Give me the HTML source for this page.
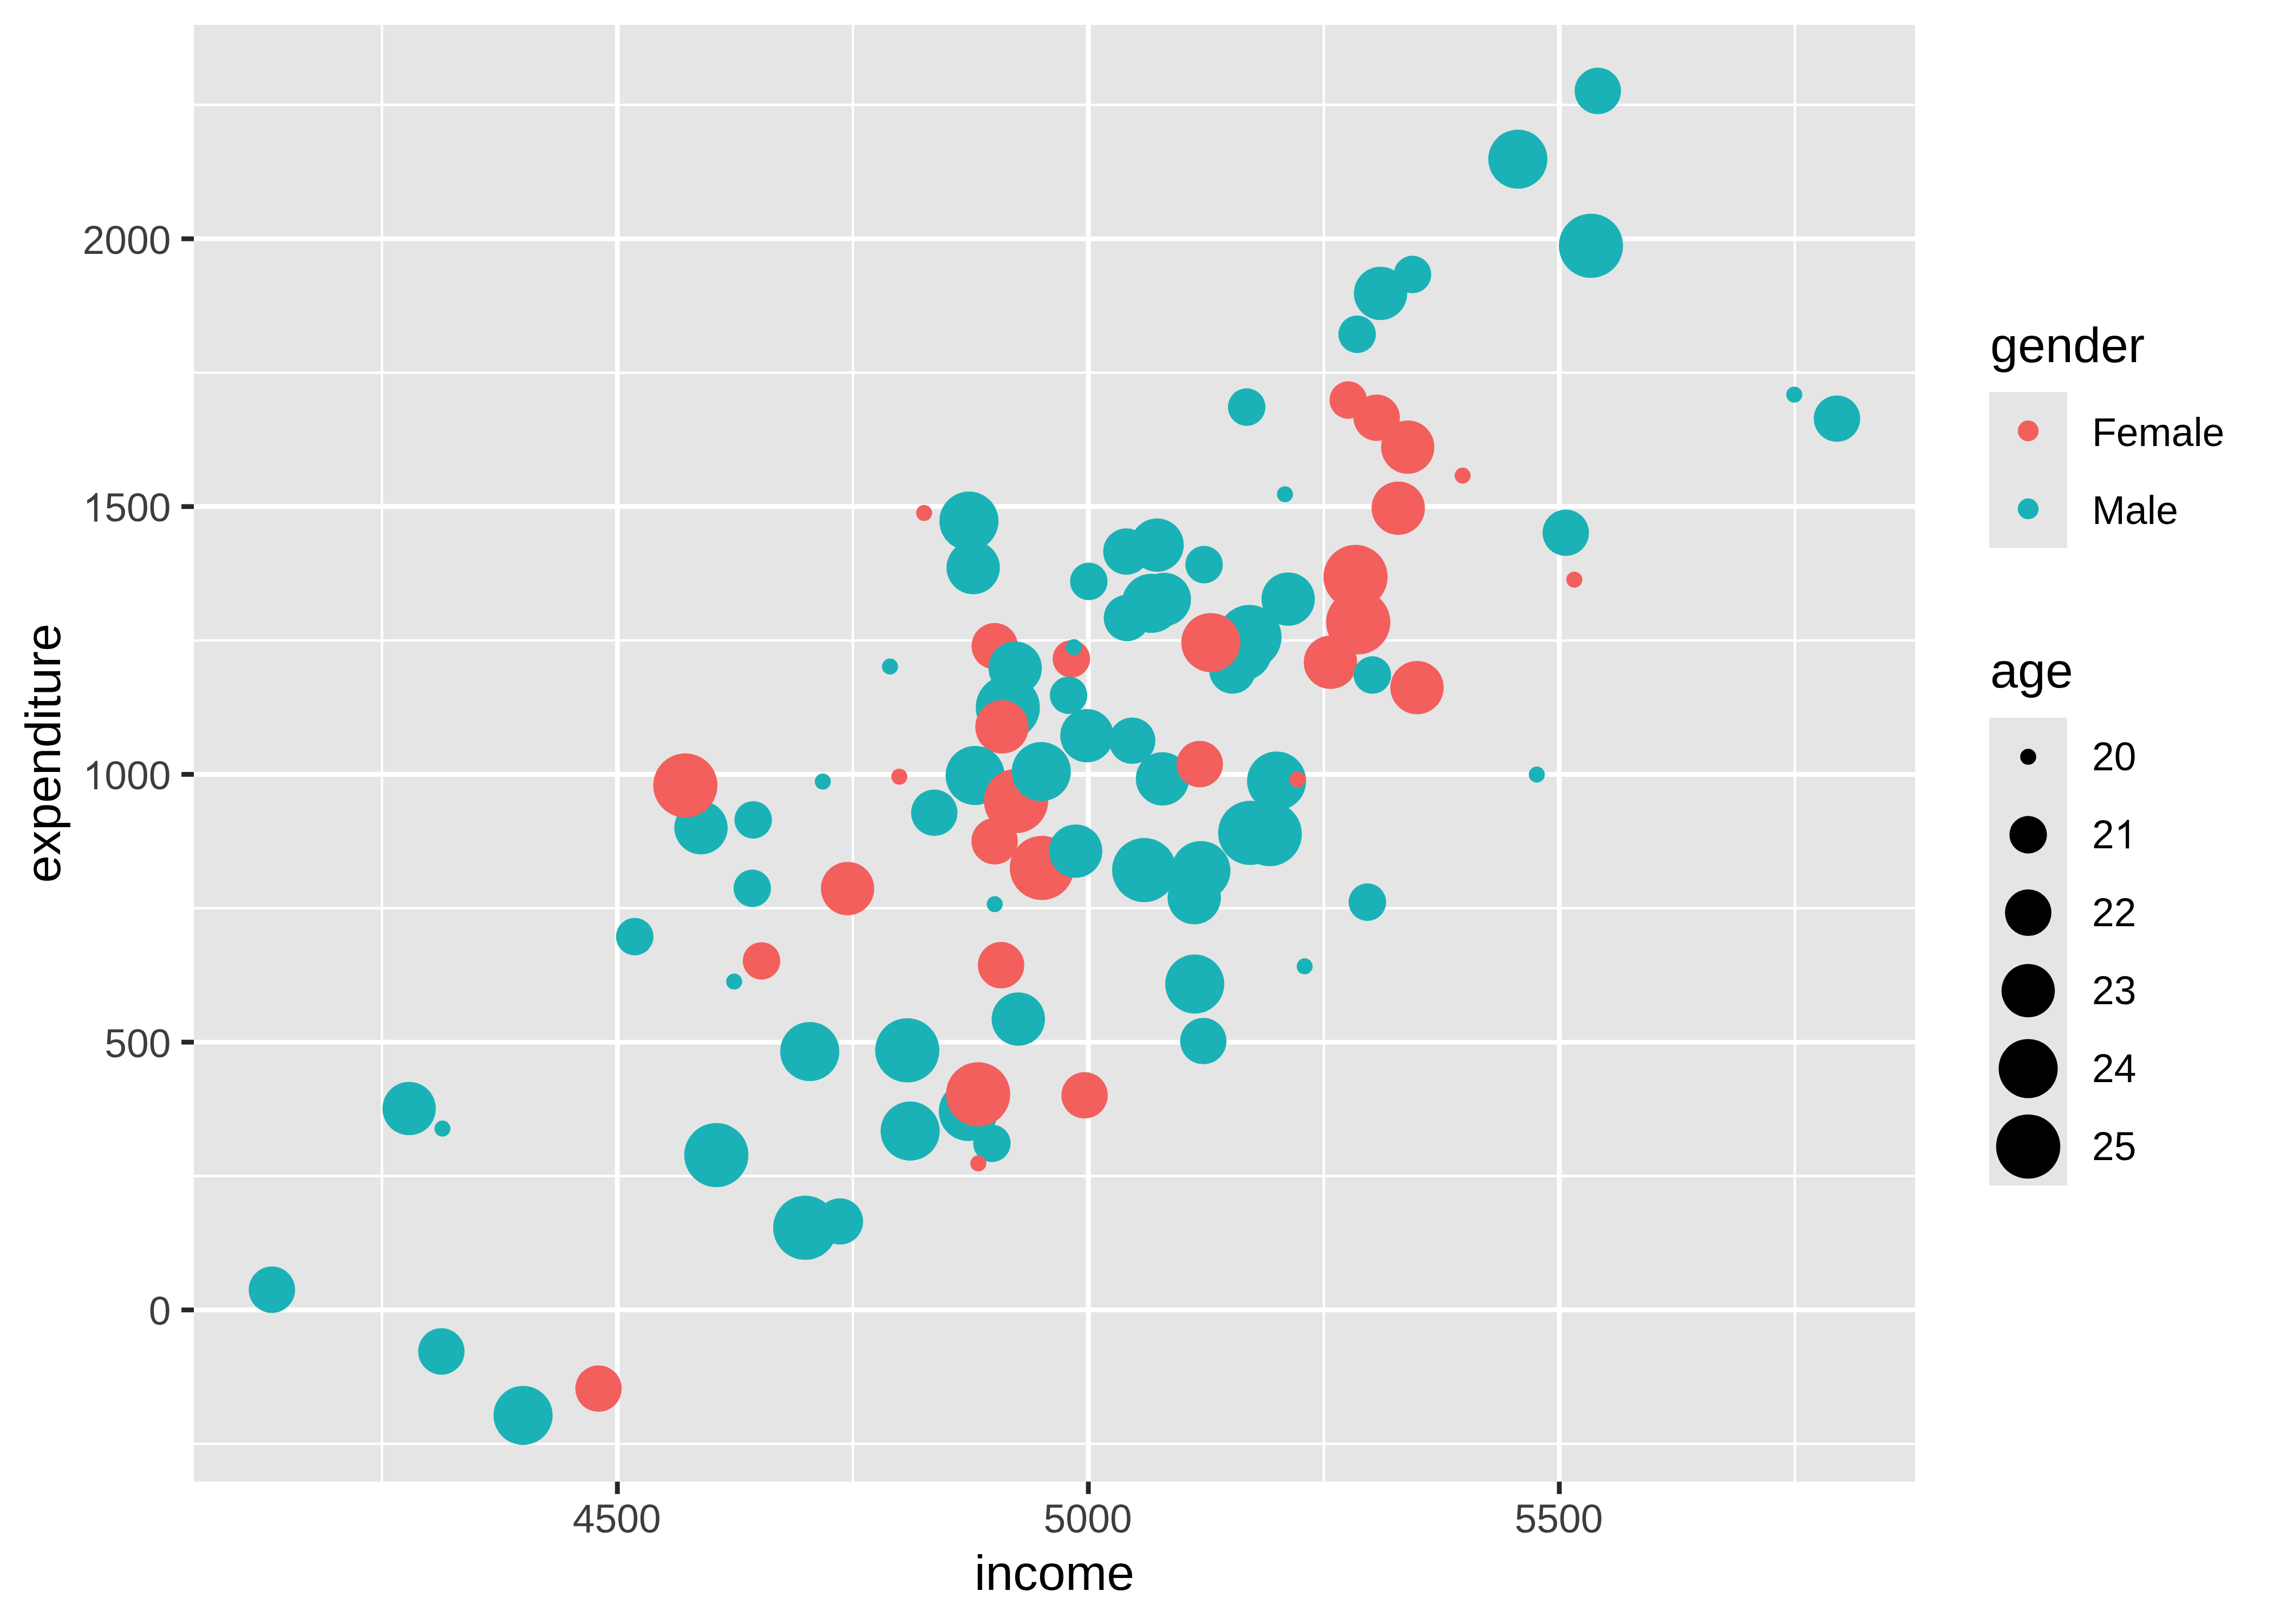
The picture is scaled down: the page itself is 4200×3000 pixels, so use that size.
<!DOCTYPE html>
<html><head><meta charset="utf-8"><style>html,body{margin:0;padding:0;width:4200px;height:3000px;overflow:hidden;background:#fff;font-family:"Liberation Sans", sans-serif;}</style></head>
<body>
<svg width="4200" height="3000" viewBox="0 0 4200 3000" style="position:absolute;left:0;top:0" font-family="'Liberation Sans', sans-serif">
<defs><clipPath id="pc"><rect x="358" y="46" width="3179" height="2691"/></clipPath></defs>
<rect width="4200" height="3000" fill="#fff"/>
<rect x="358" y="46" width="3179" height="2691" fill="#E5E5E5"/>
<line x1="705.38" y1="46" x2="705.38" y2="2737" stroke="#fff" stroke-width="4.44"/>
<line x1="1575.22" y1="46" x2="1575.22" y2="2737" stroke="#fff" stroke-width="4.44"/>
<line x1="2445.07" y1="46" x2="2445.07" y2="2737" stroke="#fff" stroke-width="4.44"/>
<line x1="3314.93" y1="46" x2="3314.93" y2="2737" stroke="#fff" stroke-width="4.44"/>
<line x1="358" y1="2667.14" x2="3537" y2="2667.14" stroke="#fff" stroke-width="4.44"/>
<line x1="358" y1="2172.46" x2="3537" y2="2172.46" stroke="#fff" stroke-width="4.44"/>
<line x1="358" y1="1677.79" x2="3537" y2="1677.79" stroke="#fff" stroke-width="4.44"/>
<line x1="358" y1="1183.11" x2="3537" y2="1183.11" stroke="#fff" stroke-width="4.44"/>
<line x1="358" y1="688.44" x2="3537" y2="688.44" stroke="#fff" stroke-width="4.44"/>
<line x1="358" y1="193.76" x2="3537" y2="193.76" stroke="#fff" stroke-width="4.44"/>
<line x1="1140.30" y1="46" x2="1140.30" y2="2737" stroke="#fff" stroke-width="8.89"/>
<line x1="2010.15" y1="46" x2="2010.15" y2="2737" stroke="#fff" stroke-width="8.89"/>
<line x1="2880.00" y1="46" x2="2880.00" y2="2737" stroke="#fff" stroke-width="8.89"/>
<line x1="358" y1="2419.80" x2="3537" y2="2419.80" stroke="#fff" stroke-width="8.89"/>
<line x1="358" y1="1925.13" x2="3537" y2="1925.13" stroke="#fff" stroke-width="8.89"/>
<line x1="358" y1="1430.45" x2="3537" y2="1430.45" stroke="#fff" stroke-width="8.89"/>
<line x1="358" y1="935.78" x2="3537" y2="935.78" stroke="#fff" stroke-width="8.89"/>
<line x1="358" y1="441.10" x2="3537" y2="441.10" stroke="#fff" stroke-width="8.89"/>
<g clip-path="url(#pc)"><circle cx="2951.1" cy="168.0" r="42.90" fill="#1AB2B6"/><circle cx="2803.4" cy="294.0" r="54.55" fill="#1AB2B6"/><circle cx="2938.4" cy="454.0" r="59.25" fill="#1AB2B6"/><circle cx="2608.8" cy="507.0" r="34.65" fill="#1AB2B6"/><circle cx="2549.8" cy="542.0" r="49.25" fill="#1AB2B6"/><circle cx="2506.6" cy="617.5" r="34.65" fill="#1AB2B6"/><circle cx="3313.9" cy="729.0" r="14.80" fill="#1AB2B6"/><circle cx="3392.8" cy="773.3" r="42.90" fill="#1AB2B6"/><circle cx="2490.2" cy="739.0" r="34.65" fill="#F25F5C"/><circle cx="2542.6" cy="771.6" r="42.90" fill="#F25F5C"/><circle cx="2600.0" cy="826.0" r="49.25" fill="#F25F5C"/><circle cx="2701.4" cy="878.6" r="14.80" fill="#F25F5C"/><circle cx="2373.3" cy="913.0" r="14.80" fill="#1AB2B6"/><circle cx="2582.5" cy="938.7" r="49.25" fill="#F25F5C"/><circle cx="2891.9" cy="984.2" r="42.90" fill="#1AB2B6"/><circle cx="2907.7" cy="1070.7" r="14.80" fill="#F25F5C"/><circle cx="2503.6" cy="1065.7" r="59.25" fill="#F25F5C"/><circle cx="2508.6" cy="1149.4" r="59.25" fill="#F25F5C"/><circle cx="2457.3" cy="1223.4" r="49.25" fill="#F25F5C"/><circle cx="2534.7" cy="1246.9" r="34.65" fill="#1AB2B6"/><circle cx="2617.2" cy="1270.2" r="49.25" fill="#F25F5C"/><circle cx="2838.4" cy="1430.9" r="14.80" fill="#1AB2B6"/><circle cx="2302.6" cy="752.0" r="34.65" fill="#1AB2B6"/><circle cx="1706.8" cy="947.6" r="14.80" fill="#F25F5C"/><circle cx="1789.6" cy="962.6" r="54.55" fill="#1AB2B6"/><circle cx="1797.4" cy="1048.5" r="49.25" fill="#1AB2B6"/><circle cx="2011.0" cy="1074.0" r="34.65" fill="#1AB2B6"/><circle cx="2080.3" cy="1018.8" r="42.90" fill="#1AB2B6"/><circle cx="2137.1" cy="1006.9" r="49.25" fill="#1AB2B6"/><circle cx="2223.9" cy="1043.0" r="34.65" fill="#1AB2B6"/><circle cx="2081.4" cy="1141.6" r="42.90" fill="#1AB2B6"/><circle cx="2126.6" cy="1114.5" r="54.55" fill="#1AB2B6"/><circle cx="2150.5" cy="1107.2" r="49.25" fill="#1AB2B6"/><circle cx="2379.2" cy="1106.7" r="49.25" fill="#1AB2B6"/><circle cx="2307.7" cy="1176.8" r="59.25" fill="#1AB2B6"/><circle cx="2295.0" cy="1202.9" r="54.55" fill="#1AB2B6"/><circle cx="2276.2" cy="1238.6" r="42.90" fill="#1AB2B6"/><circle cx="2236.4" cy="1187.0" r="54.55" fill="#F25F5C"/><circle cx="1837.2" cy="1193.7" r="42.90" fill="#F25F5C"/><circle cx="1861.4" cy="1306.8" r="59.25" fill="#1AB2B6"/><circle cx="1875.0" cy="1234.2" r="49.25" fill="#1AB2B6"/><circle cx="1850.6" cy="1342.8" r="49.25" fill="#F25F5C"/><circle cx="1978.8" cy="1217.1" r="34.65" fill="#F25F5C"/><circle cx="1983.5" cy="1195.5" r="14.80" fill="#1AB2B6"/><circle cx="1973.6" cy="1284.3" r="34.65" fill="#1AB2B6"/><circle cx="1643.8" cy="1231.4" r="14.80" fill="#1AB2B6"/><circle cx="2007.5" cy="1358.9" r="49.25" fill="#1AB2B6"/><circle cx="2091.1" cy="1368.3" r="42.90" fill="#1AB2B6"/><circle cx="2147.1" cy="1438.7" r="49.25" fill="#1AB2B6"/><circle cx="2215.9" cy="1411.5" r="42.90" fill="#F25F5C"/><circle cx="1519.7" cy="1443.7" r="14.80" fill="#1AB2B6"/><circle cx="1661.0" cy="1434.8" r="14.80" fill="#F25F5C"/><circle cx="1801.0" cy="1432.6" r="54.55" fill="#1AB2B6"/><circle cx="1876.6" cy="1479.7" r="59.25" fill="#F25F5C"/><circle cx="1923.2" cy="1425.4" r="54.55" fill="#1AB2B6"/><circle cx="1725.6" cy="1501.3" r="42.90" fill="#1AB2B6"/><circle cx="1391.1" cy="1514.6" r="34.65" fill="#1AB2B6"/><circle cx="1294.7" cy="1529.0" r="49.25" fill="#1AB2B6"/><circle cx="1265.8" cy="1450.9" r="59.25" fill="#F25F5C"/><circle cx="2357.8" cy="1442.8" r="54.55" fill="#1AB2B6"/><circle cx="2396.8" cy="1439.8" r="14.80" fill="#F25F5C"/><circle cx="1837.0" cy="1554.0" r="42.90" fill="#F25F5C"/><circle cx="1924.3" cy="1603.3" r="59.25" fill="#F25F5C"/><circle cx="1986.7" cy="1572.2" r="49.25" fill="#1AB2B6"/><circle cx="1837.3" cy="1670.3" r="14.80" fill="#1AB2B6"/><circle cx="2113.3" cy="1607.2" r="59.25" fill="#1AB2B6"/><circle cx="2218.0" cy="1608.2" r="54.55" fill="#1AB2B6"/><circle cx="2205.7" cy="1658.2" r="49.25" fill="#1AB2B6"/><circle cx="2309.1" cy="1538.4" r="59.25" fill="#1AB2B6"/><circle cx="2345.2" cy="1540.7" r="59.25" fill="#1AB2B6"/><circle cx="2525.5" cy="1666.5" r="34.65" fill="#1AB2B6"/><circle cx="2409.7" cy="1785.1" r="14.80" fill="#1AB2B6"/><circle cx="1389.4" cy="1641.0" r="34.65" fill="#1AB2B6"/><circle cx="1565.4" cy="1641.5" r="49.25" fill="#F25F5C"/><circle cx="1172.3" cy="1730.2" r="34.65" fill="#1AB2B6"/><circle cx="1406.5" cy="1775.1" r="34.65" fill="#F25F5C"/><circle cx="1356.0" cy="1813.3" r="14.80" fill="#1AB2B6"/><circle cx="1848.9" cy="1783.0" r="42.90" fill="#F25F5C"/><circle cx="1880.8" cy="1882.6" r="49.25" fill="#1AB2B6"/><circle cx="2206.6" cy="1817.8" r="54.55" fill="#1AB2B6"/><circle cx="2222.5" cy="1923.1" r="42.90" fill="#1AB2B6"/><circle cx="1495.6" cy="1942.5" r="54.55" fill="#1AB2B6"/><circle cx="1675.7" cy="1940.3" r="59.25" fill="#1AB2B6"/><circle cx="1788.4" cy="2053.2" r="54.55" fill="#1AB2B6"/><circle cx="1806.5" cy="2021.5" r="59.25" fill="#F25F5C"/><circle cx="1832.0" cy="2112.1" r="34.65" fill="#1AB2B6"/><circle cx="1806.9" cy="2149.1" r="14.80" fill="#F25F5C"/><circle cx="1681.0" cy="2089.4" r="54.55" fill="#1AB2B6"/><circle cx="2003.2" cy="2023.4" r="42.90" fill="#F25F5C"/><circle cx="1323.0" cy="2133.7" r="59.25" fill="#1AB2B6"/><circle cx="755.7" cy="2047.8" r="49.25" fill="#1AB2B6"/><circle cx="817.2" cy="2084.9" r="14.80" fill="#1AB2B6"/><circle cx="1487.2" cy="2268.1" r="59.25" fill="#1AB2B6"/><circle cx="1551.3" cy="2256.4" r="42.90" fill="#1AB2B6"/><circle cx="502.2" cy="2382.5" r="42.90" fill="#1AB2B6"/><circle cx="815.2" cy="2496.5" r="42.90" fill="#1AB2B6"/><circle cx="966.1" cy="2614.7" r="54.55" fill="#1AB2B6"/><circle cx="1105.4" cy="2565.1" r="42.90" fill="#F25F5C"/></g>
<line x1="1140.30" y1="2737" x2="1140.30" y2="2759.9" stroke="#262626" stroke-width="8.89"/>
<line x1="2010.15" y1="2737" x2="2010.15" y2="2759.9" stroke="#262626" stroke-width="8.89"/>
<line x1="2880.00" y1="2737" x2="2880.00" y2="2759.9" stroke="#262626" stroke-width="8.89"/>
<line x1="335.1" y1="2419.80" x2="358" y2="2419.80" stroke="#262626" stroke-width="8.89"/>
<line x1="335.1" y1="1925.13" x2="358" y2="1925.13" stroke="#262626" stroke-width="8.89"/>
<line x1="335.1" y1="1430.45" x2="358" y2="1430.45" stroke="#262626" stroke-width="8.89"/>
<line x1="335.1" y1="935.78" x2="358" y2="935.78" stroke="#262626" stroke-width="8.89"/>
<line x1="335.1" y1="441.10" x2="358" y2="441.10" stroke="#262626" stroke-width="8.89"/>
<text x="1139.30" y="2831.3" font-size="73.33" fill="#3D3D3D" text-anchor="middle">4500</text>
<text x="2009.15" y="2831.3" font-size="73.33" fill="#3D3D3D" text-anchor="middle">5000</text>
<text x="2879.00" y="2831.3" font-size="73.33" fill="#3D3D3D" text-anchor="middle">5500</text>
<text x="315.6" y="2447.40" font-size="73.33" fill="#3D3D3D" text-anchor="end">0</text>
<text x="315.6" y="1952.73" font-size="73.33" fill="#3D3D3D" text-anchor="end">500</text>
<path transform="translate(152.48 1458.05)" d="M27.5,0 L27.5,-52.6 L23.9,-52.6 C22,-49.5 17,-44 8.6,-39.7 L8.6,-33.2 C12.5,-34.8 17.5,-37.5 21.4,-41.4 L21.4,0 Z" fill="#3D3D3D"/>
<text x="315.6" y="1458.05" font-size="73.33" fill="#3D3D3D" text-anchor="end">000</text>
<path transform="translate(152.48 963.38)" d="M27.5,0 L27.5,-52.6 L23.9,-52.6 C22,-49.5 17,-44 8.6,-39.7 L8.6,-33.2 C12.5,-34.8 17.5,-37.5 21.4,-41.4 L21.4,0 Z" fill="#3D3D3D"/>
<text x="315.6" y="963.38" font-size="73.33" fill="#3D3D3D" text-anchor="end">500</text>
<text x="315.6" y="468.70" font-size="73.33" fill="#3D3D3D" text-anchor="end">2000</text>
<text x="1947.5" y="2936.7" font-size="91.67" fill="#000" text-anchor="middle">income</text>
<text x="0" y="0" font-size="91.67" fill="#000" text-anchor="middle" transform="translate(110.8 1391.5) rotate(-90)">expenditure</text>
<text x="3676" y="669.3" font-size="91.67" fill="#000">gender</text>
<rect x="3674" y="724" width="144" height="288" fill="#E5E5E5"/>
<circle cx="3746" cy="796" r="19.25" fill="#F25F5C"/>
<circle cx="3746" cy="940" r="19.25" fill="#1AB2B6"/>
<text x="3864" y="823.8" font-size="73.33" fill="#000">Female</text>
<text x="3864" y="967.9" font-size="73.33" fill="#000">Male</text>
<text x="3676" y="1269.8" font-size="91.67" fill="#000">age</text>
<rect x="3674" y="1326" width="144" height="864" fill="#E5E5E5"/>
<circle cx="3746" cy="1398" r="14.80" fill="#000"/>
<text x="3864" y="1423.2" font-size="73.33" fill="#000">20</text>
<circle cx="3746" cy="1542" r="34.65" fill="#000"/>
<text x="3864" y="1567.2" font-size="73.33" fill="#000">2</text>
<path transform="translate(3904.78 1567.20)" d="M27.5,0 L27.5,-52.6 L23.9,-52.6 C22,-49.5 17,-44 8.6,-39.7 L8.6,-33.2 C12.5,-34.8 17.5,-37.5 21.4,-41.4 L21.4,0 Z" fill="#000"/>
<circle cx="3746" cy="1686" r="42.90" fill="#000"/>
<text x="3864" y="1711.2" font-size="73.33" fill="#000">22</text>
<circle cx="3746" cy="1830" r="49.25" fill="#000"/>
<text x="3864" y="1855.2" font-size="73.33" fill="#000">23</text>
<circle cx="3746" cy="1974" r="54.55" fill="#000"/>
<text x="3864" y="1999.2" font-size="73.33" fill="#000">24</text>
<circle cx="3746" cy="2118" r="59.25" fill="#000"/>
<text x="3864" y="2143.2" font-size="73.33" fill="#000">25</text>
</svg>
</body></html>
